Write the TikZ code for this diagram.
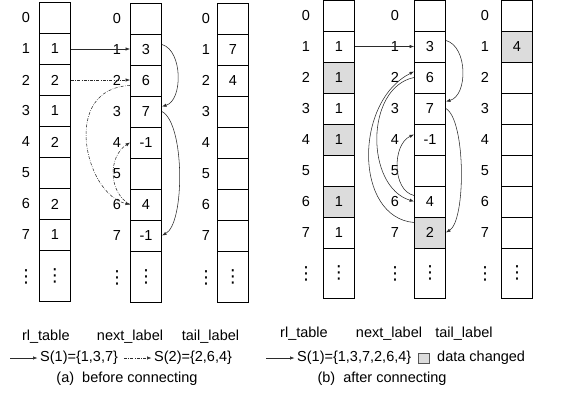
\documentclass[tikz,border=0pt]{standalone}
\usepackage{fontspec}
\setmainfont{Liberation Sans}
\newfontfamily\symfont{DejaVu Sans}
\usetikzlibrary{arrows.meta}
\definecolor{chg}{HTML}{DCDCDC}
\definecolor{ink}{HTML}{2B2B2B}
% vertical ellipsis for the open-ended rows
\newcommand\vdts{{\symfont\fontsize{18}{18}\selectfont ⋮}}
\tikzset{
  txt/.style={font=\fontsize{14.5}{17}\selectfont, inner sep=1pt},
  legtxt/.style={txt, anchor=west},
  cell/.style={txt, draw, line width=0.9pt, minimum width=31pt, minimum height=31pt, inner sep=0pt},
  dotcell/.style={cell, minimum height=#1},
  idx/.style={txt},
  conn/.style={draw=ink, line width=0.55pt, -{Latex[length=4.5pt,width=3.4pt]}},
  dd/.style={dash pattern=on 3pt off 1.4pt on 0.6pt off 1.4pt},
  chgbox/.style={draw=ink!80, line width=0.6pt, fill=chg, minimum width=11.5pt, minimum height=10.5pt, inner sep=0pt},
}
\begin{document}
\begin{tikzpicture}[x=1pt, y=-1pt]
\useasboundingbox (0,0) rectangle (570,412);

% ---------- (a) before connecting ----------
\foreach \i/\v in {0/,1/1,2/2,3/1,4/2,5/,6/2,7/1} {
  \node[cell] (aR\i) at (54.8, 18+31*\i) {\v};
  \node[idx] (aRi\i) at (26, 18+31*\i) {\i};
}
\node[dotcell=51pt] (aR8) at (54.8, 276) {\vdts};
\node[idx] (aRi8) at (26, 277) {\vdts};

\foreach \i/\v in {0/,1/3,2/6,3/7,4/-1,5/,6/4,7/-1} {
  \node[cell] (aN\i) at (146, 18.5+31*\i) {\v};
  \node[idx] (aNi\i) at (117, 18.5+31*\i) {\i};
}
\node[dotcell=51pt] (aN8) at (146, 276.5) {\vdts};
\node[idx] (aNi8) at (117, 277.5) {\vdts};

\foreach \i/\v in {0/,1/7,2/4,3/,4/,5/,6/,7/} {
  \node[cell] (aT\i) at (232.8, 18.5+31*\i) {\v};
  \node[idx] (aTi\i) at (206, 18.5+31*\i) {\i};
}
\node[dotcell=51pt] (aT8) at (232.8, 276.5) {\vdts};
\node[idx] (aTi8) at (206, 277.5) {\vdts};

% links of S(1)
\draw[conn] (aR1.east) -- (aR1.east -| aN1.west);
\draw[conn] ([yshift=5pt]aN1.east) .. controls +(21,6) and +(21,-6) .. ([yshift=5pt]aN3.east);
\draw[conn] (aN3.east) .. controls +(23,12) and +(23,-12) .. (aN7.east);
% links of S(2)
\draw[conn,dd] (aR2.east) -- (aR2.east -| aN2.west);
\draw[conn,dd] ([yshift=-5pt]aN2.west) .. controls +(-70,3) and +(-45,-10) .. (aN6.west);
\draw[conn,dd] (aN6.west) .. controls +(-22,-12) and +(-22,14) .. (aN4.west);

% column titles, legend, caption
\node[txt] (aRl) at (45.8,337) {rl\_table};
\node[txt] (aNl) at (130,337) {next\_label};
\node[txt] (aTl) at (210.5,337) {tail\_label};

\coordinate (laS) at (10,358);
\node[legtxt] (laT) at (39,358) {S(1)=\{1,3,7\}};
\draw[conn, shorten >=1.5pt] (laS) -- (laT.west);
\coordinate (laD) at (124,358);
\node[legtxt] (laU) at (153,358) {S(2)=\{2,6,4\}};
\draw[conn,dd, shorten >=1.5pt] (laD) -- (laU.west);

\node[txt] (capA) at (127,379) {(a)\ \ before connecting};

% ---------- (b) after connecting ----------
\foreach \i/\v/\f in {0//white,1/1/white,2/1/chg,3/1/white,4/1/chg,5//white,6/1/chg,7/1/white} {
  \node[cell, fill=\f] (bR\i) at (338.8, 15.5+31*\i) {\v};
  \node[idx] (bRi\i) at (306, 15.5+31*\i) {\i};
}
\node[dotcell=50pt] (bR8) at (338.8, 273) {\vdts};
\node[idx] (bRi8) at (306, 274) {\vdts};

\foreach \i/\v/\f in {0//white,1/3/white,2/6/white,3/7/white,4/-1/white,5//white,6/4/white,7/2/chg} {
  \node[cell, fill=\f] (bN\i) at (430, 15.5+31*\i) {\v};
  \node[idx] (bNi\i) at (395, 15.5+31*\i) {\i};
}
\node[dotcell=50pt] (bN8) at (430, 273) {\vdts};
\node[idx] (bNi8) at (395, 274) {\vdts};

\foreach \i/\v/\f in {0//white,1/4/chg,2//white,3//white,4//white,5//white,6//white,7//white} {
  \node[cell, fill=\f] (bT\i) at (517, 15.5+31*\i) {\v};
  \node[idx] (bTi\i) at (485, 15.5+31*\i) {\i};
}
\node[dotcell=50pt] (bT8) at (517, 273) {\vdts};
\node[idx] (bTi8) at (485, 274) {\vdts};

% merged list S(1)
\draw[conn] (bR1.east) -- (bR1.east -| bN1.west);
\draw[conn] ([yshift=6pt]bN1.east) .. controls +(22,6) and +(22,-6) .. ([yshift=7pt]bN3.east);
\draw[conn] (bN3.east) .. controls +(20,12) and +(20,-12) .. (bN7.east);
\draw[conn] ([yshift=10pt]bN7.west) .. controls +(-60,-5) and +(-60,30) .. ([yshift=6pt]bN2.west);
\draw[conn] (bN2.west) .. controls +(-49,10) and +(-49,-15) .. (bN6.west);
\draw[conn] ([yshift=6pt]bN6.west) .. controls +(-22,-5) and +(-22,10) .. ([yshift=5pt]bN4.west);

\node[txt] (bRl) at (304,334) {rl\_table};
\node[txt] (bNl) at (389,334) {next\_label};
\node[txt] (bTl) at (464,334) {tail\_label};

\coordinate (lbS) at (266,358);
\node[legtxt] (lbT) at (296,358) {S(1)=\{1,3,7,2,6,4\}};
\draw[conn, shorten >=1.5pt] (lbS) -- (lbT.west);
\node[chgbox] (lbBox) at (424,358.5) {};
\node[legtxt] (lbC) at (436,358) {data changed};

\node[txt] (capB) at (382,379) {(b)\ \ after connecting};
\end{tikzpicture}
\end{document}
